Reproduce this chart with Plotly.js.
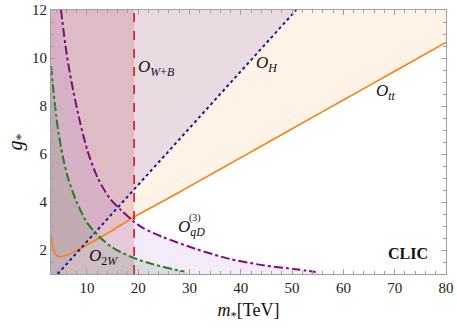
<!DOCTYPE html>
<html>
<head>
<meta charset="utf-8">
<script src="https://cdn.plot.ly/plotly-3.0.1.min.js"></script>
<style>html,body{margin:0;padding:0;background:#fff;}#chart{width:457px;height:328px;}</style>
</head>
<body>
<div id="chart"></div>
<script>
// ---- data ----
const xRange = [3, 80];
const yRange = [1, 12];

// O_tt (orange solid)
const mTT = [3.0, 3.2, 3.5, 3.9, 4.4, 5.0, 6.0, 8.0, 10.0, 12.0, 15.0, 19.0, 25, 30, 40, 50, 60, 70, 80];
const gTT = [2.65, 2.3, 2.0, 1.82, 1.73, 1.72, 1.78, 1.98, 2.2, 2.45, 2.82, 3.35, 4.05, 4.65, 5.85, 7.05, 8.25, 9.45, 10.65];

// O_H (navy dotted)
const mH = [4.3, 50.8];
const gH = [1.0, 12.0];

// O_{W+B} (red dashed, vertical)
const mWB = 19.2;

// O_qD^(3) (purple dash-dot)
const mQD = [4.95, 6.0, 7.0, 8.6, 10.2, 12.2, 14.5, 16.7, 19.0, 20.9, 24.8, 31.3, 37.8, 44.2, 50.7, 54.6];
const gQD = [12.0, 10.25, 9.0, 7.38, 6.08, 4.96, 4.14, 3.65, 3.21, 2.92, 2.54, 2.04, 1.63, 1.37, 1.2, 1.08];

// O_2W (green dash-dot)
const m2W = [3.0, 3.5, 4.0, 4.5, 5.3, 6.4, 8.0, 10.0, 12.2, 15.0, 19.0, 23.0, 28.0, 29.0];
const g2W = [9.66, 8.6, 7.6, 6.85, 5.9, 4.95, 4.0, 3.15, 2.6, 2.1, 1.68, 1.4, 1.14, 1.1];

const labels = ['O_tt', 'O_H', 'O_W+B', 'O_qD', 'O_2W'];

// ---- fills (built from the curves and the plot range) ----
const traces = [];
function fillTrace(xs, ys, color) {
  return {x: xs, y: ys, type: 'scatter', mode: 'lines', fill: 'toself',
          fillcolor: color, line: {width: 0}, hoverinfo: 'skip', showlegend: false};
}
traces.push(fillTrace(mTT.concat([xRange[1], xRange[0]]), gTT.concat([yRange[1], yRange[1]]), 'rgba(255,150,50,0.12)'));
traces.push(fillTrace([xRange[0], mH[0], mH[1], xRange[0]], [yRange[0], gH[0], gH[1], yRange[1]], 'rgba(110,90,200,0.15)'));
traces.push(fillTrace([xRange[0], mWB, mWB, xRange[0]], [yRange[0], yRange[0], yRange[1], yRange[1]], 'rgba(190,95,115,0.25)'));
traces.push(fillTrace([xRange[0]].concat(mQD, [55.5, xRange[0]]), [yRange[1]].concat(gQD, [yRange[0], yRange[0]]), 'rgba(160,100,200,0.12)'));
traces.push(fillTrace(m2W.concat([30.0, xRange[0]]), g2W.concat([yRange[0], yRange[0]]), 'rgba(70,130,60,0.14)'));

// ---- lines ----
traces.push({x: mTT, y: gTT, type: 'scatter', mode: 'lines', name: labels[0],
  line: {color: 'rgb(250,128,20)', width: 1.6, shape: 'spline', smoothing: 0.6}, showlegend: false});
traces.push({x: mH, y: gH, type: 'scatter', mode: 'lines', name: labels[1],
  line: {color: 'rgb(25,25,140)', width: 2, dash: 'dot'}, showlegend: false});
traces.push({x: [mWB, mWB], y: yRange, type: 'scatter', mode: 'lines', name: labels[2],
  line: {color: 'rgb(215,20,30)', width: 1.6, dash: 'dash'}, showlegend: false});
traces.push({x: mQD, y: gQD, type: 'scatter', mode: 'lines', name: labels[3],
  line: {color: 'rgb(128,10,128)', width: 2, dash: 'dashdot', shape: 'spline', smoothing: 0.8}, showlegend: false});
traces.push({x: m2W, y: g2W, type: 'scatter', mode: 'lines', name: labels[4],
  line: {color: 'rgb(30,130,30)', width: 2, dash: 'dashdot', shape: 'spline', smoothing: 0.8}, showlegend: false});

const serif = 'Liberation Serif';
const axisCommon = {
  showgrid: false, zeroline: false, showline: true, linecolor: 'rgb(160,160,160)', linewidth: 1,
  mirror: 'allticks', ticks: 'inside', ticklen: 5, tickcolor: 'rgb(160,160,160)', tickwidth: 1,
  tickfont: {family: serif, size: 15, color: '#222'}
};

const ann = (x, y, text, size, extra) => Object.assign({x: x, y: y, xref: 'x', yref: 'y', text: text,
  showarrow: false, font: {family: serif, size: size, color: '#111'}, xanchor: 'left', yanchor: 'middle'}, extra || {});

const layout = {
  width: 457, height: 328,
  margin: {l: 51, r: 11, t: 10, b: 54},
  paper_bgcolor: '#fff', plot_bgcolor: '#fff',
  font: {family: serif, size: 15},
  xaxis: Object.assign({}, axisCommon, {range: xRange, tickvals: [10, 20, 30, 40, 50, 60, 70, 80],
    minor: {dtick: 2, ticks: 'inside', ticklen: 3, tickcolor: 'rgb(160,160,160)'},
    title: {text: '<i>m</i><sub>*</sub>[TeV]', font: {family: serif, size: 18, color: '#111'}, standoff: 8}}),
  yaxis: Object.assign({}, axisCommon, {range: yRange, tickvals: [2, 4, 6, 8, 10, 12],
    minor: {dtick: 0.5, ticks: 'inside', ticklen: 3, tickcolor: 'rgb(160,160,160)'},
    title: {text: '<i>g</i><sub>*</sub>', font: {family: serif, size: 20, color: '#111'}, standoff: 4}}),
  annotations: [
    ann(19.6, 9.6, '<i>O</i><sub><i>W</i>+<i>B</i></sub>', 17),
    ann(42.6, 9.75, '<i>O</i><sub><i>H</i></sub>', 17),
    ann(66.0, 8.6, '<i>O</i><sub><i>tt</i></sub>', 17),
    ann(27.4, 2.9, '<i>O</i><sub><i>qD</i></sub>', 17),
    ann(31.0, 3.32, '(3)', 10, {xanchor: 'center'}),
    ann(10.1, 1.72, '<i>O</i><sub>2<i>W</i></sub>', 17),
    ann(72.6, 1.85, '<b>CLIC</b>', 16, {xanchor: 'center'})
  ]
};

Plotly.newPlot('chart', traces, layout, {staticPlot: true, displayModeBar: false});
</script>
</body>
</html>
